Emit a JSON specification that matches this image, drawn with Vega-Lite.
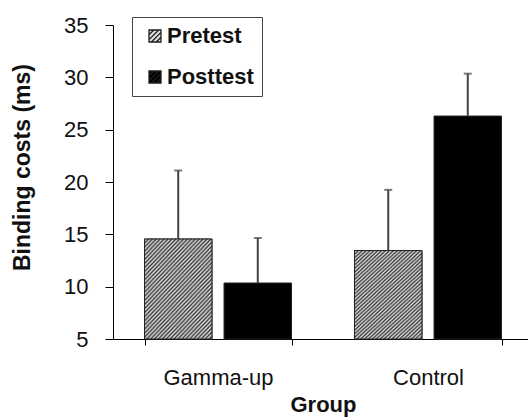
{
  "$schema": "https://vega.github.io/schema/vega-lite/v6.json",
  "width": 415,
  "height": 314,
  "autosize": {"type": "none"},
  "padding": {"left": 113, "top": 25, "right": 0, "bottom": 81},
  "config": {
    "view": {"stroke": null},
    "font": "Liberation Sans",
    "axis": {
      "domainColor": "#000",
      "domainWidth": 1,
      "tickColor": "#000",
      "tickWidth": 1,
      "labelColor": "#111",
      "labelFont": "Liberation Sans",
      "labelFontSize": 22,
      "titleFont": "Liberation Sans",
      "titleFontWeight": "bold",
      "titleFontSize": 22,
      "titleColor": "#111",
      "grid": false
    }
  },
  "data": {
    "values": [
      {"group": "Gamma-up", "test": "Pretest", "mean": 14.55, "upper": 21.1},
      {"group": "Gamma-up", "test": "Posttest", "mean": 10.35, "upper": 14.65},
      {"group": "Control", "test": "Pretest", "mean": 13.45, "upper": 19.25},
      {"group": "Control", "test": "Posttest", "mean": 26.3, "upper": 30.35}
    ]
  },
  "encoding": {
    "x": {
      "field": "group",
      "type": "nominal",
      "sort": ["Gamma-up", "Control"],
      "scale": {"range": [0, 420], "paddingInner": 0.3, "paddingOuter": 0.15},
      "axis": {
        "title": "Group",
        "labelAngle": 0,
        "tickBand": "extent",
        "tickSize": 6,
        "labelPadding": 22,
        "titleY": 55,
        "titleBaseline": "top"
      }
    },
    "xOffset": {
      "field": "test",
      "sort": ["Pretest", "Posttest"],
      "scale": {"paddingInner": 0.152, "paddingOuter": 0}
    }
  },
  "layer": [
    {
      "mark": {"type": "bar", "stroke": "#222", "strokeWidth": 1},
      "encoding": {
        "y": {
          "field": "mean",
          "type": "quantitative",
          "scale": {"domain": [5, 35], "nice": false, "zero": false},
          "axis": {
            "title": "Binding costs (ms)",
            "values": [5, 10, 15, 20, 25, 30, 35],
            "tickSize": 8,
            "labelPadding": 17,
            "titleAngle": 270,
            "titleX": -91,
            "titleY": 142,
            "titleAlign": "center",
            "titleBaseline": "middle",
            "titleFontSize": 23
          }
        },
        "y2": {"datum": 5},
        "color": {
          "field": "test",
          "type": "nominal",
          "sort": ["Pretest", "Posttest"],
          "scale": {"domain": ["Pretest", "Posttest"], "range": ["#dedede", "#000000"]},
          "legend": {
            "title": null,
            "orient": "none",
            "legendX": 19,
            "legendY": -8,
            "strokeColor": "#444",
            "padding": 8,
            "symbolOffset": 4,
            "symbolType": "M-1,-1H1V1H-1Z M-1,-0.2L-0.2,-1 M-1,0.6L0.6,-1 M-0.6,1L1,-0.6 M0.2,1L1,0.2",
            "symbolSize": 144,
            "symbolStrokeColor": "#1e1e1e",
            "symbolStrokeWidth": 1.3,
            "labelFont": "Liberation Sans",
            "labelFontWeight": "bold",
            "labelFontSize": 22,
            "labelColor": "#111",
            "labelOffset": 1,
            "rowPadding": 19
          }
        }
      }
    },
    {
      "transform": [{"filter": "datum.test === 'Pretest'"}],
      "mark": {
        "type": "bar",
        "stroke": "#222",
        "strokeWidth": 1,
        "fill": {
          "gradient": "linear",
          "x1": 0, "y1": 0, "x2": 0.85, "y2": 1.2,
          "stops": [
            {"offset": 0, "color": "#3a3a3a"}, {"offset": 0.0114, "color": "#dcdcdc"},
            {"offset": 0.0227, "color": "#3a3a3a"}, {"offset": 0.0341, "color": "#dcdcdc"},
            {"offset": 0.0455, "color": "#3a3a3a"}, {"offset": 0.0568, "color": "#dcdcdc"},
            {"offset": 0.0682, "color": "#3a3a3a"}, {"offset": 0.0795, "color": "#dcdcdc"},
            {"offset": 0.0909, "color": "#3a3a3a"}, {"offset": 0.1023, "color": "#dcdcdc"},
            {"offset": 0.1136, "color": "#3a3a3a"}, {"offset": 0.125, "color": "#dcdcdc"},
            {"offset": 0.1364, "color": "#3a3a3a"}, {"offset": 0.1477, "color": "#dcdcdc"},
            {"offset": 0.1591, "color": "#3a3a3a"}, {"offset": 0.1705, "color": "#dcdcdc"},
            {"offset": 0.1818, "color": "#3a3a3a"}, {"offset": 0.1932, "color": "#dcdcdc"},
            {"offset": 0.2045, "color": "#3a3a3a"}, {"offset": 0.2159, "color": "#dcdcdc"},
            {"offset": 0.2273, "color": "#3a3a3a"}, {"offset": 0.2386, "color": "#dcdcdc"},
            {"offset": 0.25, "color": "#3a3a3a"}, {"offset": 0.2614, "color": "#dcdcdc"},
            {"offset": 0.2727, "color": "#3a3a3a"}, {"offset": 0.2841, "color": "#dcdcdc"},
            {"offset": 0.2955, "color": "#3a3a3a"}, {"offset": 0.3068, "color": "#dcdcdc"},
            {"offset": 0.3182, "color": "#3a3a3a"}, {"offset": 0.3295, "color": "#dcdcdc"},
            {"offset": 0.3409, "color": "#3a3a3a"}, {"offset": 0.3523, "color": "#dcdcdc"},
            {"offset": 0.3636, "color": "#3a3a3a"}, {"offset": 0.375, "color": "#dcdcdc"},
            {"offset": 0.3864, "color": "#3a3a3a"}, {"offset": 0.3977, "color": "#dcdcdc"},
            {"offset": 0.4091, "color": "#3a3a3a"}, {"offset": 0.4205, "color": "#dcdcdc"},
            {"offset": 0.4318, "color": "#3a3a3a"}, {"offset": 0.4432, "color": "#dcdcdc"},
            {"offset": 0.4545, "color": "#3a3a3a"}, {"offset": 0.4659, "color": "#dcdcdc"},
            {"offset": 0.4773, "color": "#3a3a3a"}, {"offset": 0.4886, "color": "#dcdcdc"},
            {"offset": 0.5, "color": "#3a3a3a"}, {"offset": 0.5114, "color": "#dcdcdc"},
            {"offset": 0.5227, "color": "#3a3a3a"}, {"offset": 0.5341, "color": "#dcdcdc"},
            {"offset": 0.5455, "color": "#3a3a3a"}, {"offset": 0.5568, "color": "#dcdcdc"},
            {"offset": 0.5682, "color": "#3a3a3a"}, {"offset": 0.5795, "color": "#dcdcdc"},
            {"offset": 0.5909, "color": "#3a3a3a"}, {"offset": 0.6023, "color": "#dcdcdc"},
            {"offset": 0.6136, "color": "#3a3a3a"}, {"offset": 0.625, "color": "#dcdcdc"},
            {"offset": 0.6364, "color": "#3a3a3a"}, {"offset": 0.6477, "color": "#dcdcdc"},
            {"offset": 0.6591, "color": "#3a3a3a"}, {"offset": 0.6705, "color": "#dcdcdc"},
            {"offset": 0.6818, "color": "#3a3a3a"}, {"offset": 0.6932, "color": "#dcdcdc"},
            {"offset": 0.7045, "color": "#3a3a3a"}, {"offset": 0.7159, "color": "#dcdcdc"},
            {"offset": 0.7273, "color": "#3a3a3a"}, {"offset": 0.7386, "color": "#dcdcdc"},
            {"offset": 0.75, "color": "#3a3a3a"}, {"offset": 0.7614, "color": "#dcdcdc"},
            {"offset": 0.7727, "color": "#3a3a3a"}, {"offset": 0.7841, "color": "#dcdcdc"},
            {"offset": 0.7955, "color": "#3a3a3a"}, {"offset": 0.8068, "color": "#dcdcdc"},
            {"offset": 0.8182, "color": "#3a3a3a"}, {"offset": 0.8295, "color": "#dcdcdc"},
            {"offset": 0.8409, "color": "#3a3a3a"}, {"offset": 0.8523, "color": "#dcdcdc"},
            {"offset": 0.8636, "color": "#3a3a3a"}, {"offset": 0.875, "color": "#dcdcdc"},
            {"offset": 0.8864, "color": "#3a3a3a"}, {"offset": 0.8977, "color": "#dcdcdc"},
            {"offset": 0.9091, "color": "#3a3a3a"}, {"offset": 0.9205, "color": "#dcdcdc"},
            {"offset": 0.9318, "color": "#3a3a3a"}, {"offset": 0.9432, "color": "#dcdcdc"},
            {"offset": 0.9545, "color": "#3a3a3a"}, {"offset": 0.9659, "color": "#dcdcdc"},
            {"offset": 0.9773, "color": "#3a3a3a"}, {"offset": 0.9886, "color": "#dcdcdc"},
            {"offset": 1, "color": "#3a3a3a"}
          ]
        }
      },
      "encoding": {
        "y": {"field": "mean", "type": "quantitative"},
        "y2": {"datum": 5}
      }
    },
    {
      "mark": {"type": "rule", "color": "#444", "strokeWidth": 2},
      "encoding": {
        "y": {"field": "mean", "type": "quantitative"},
        "y2": {"field": "upper"}
      }
    },
    {
      "mark": {"type": "tick", "color": "#444", "size": 8, "thickness": 2},
      "encoding": {
        "y": {"field": "upper", "type": "quantitative"}
      }
    }
  ]
}
